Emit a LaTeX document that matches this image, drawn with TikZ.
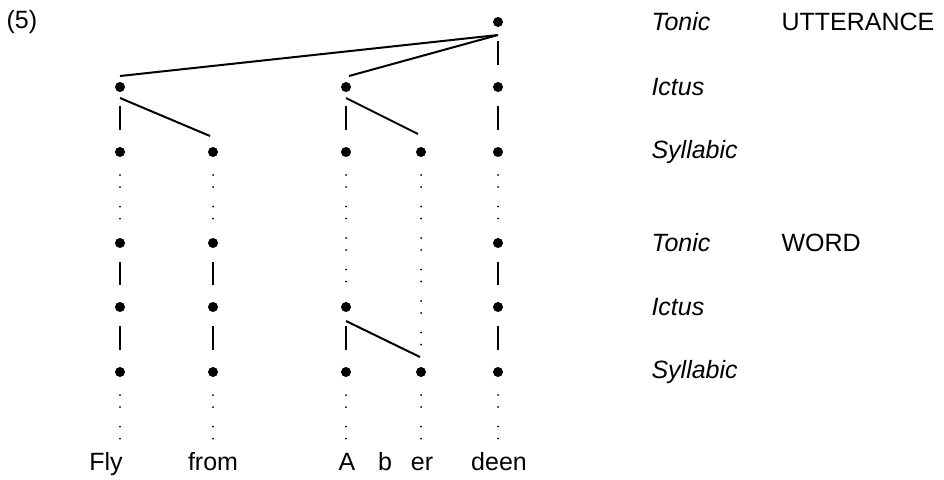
\documentclass[tikz,border=0pt]{standalone}
\usepackage{fontspec}
\setmainfont{Liberation Sans}
\usepackage{tikz}
\usetikzlibrary{positioning, calc}

\begin{document}
\begin{tikzpicture}[
    x=1pt, y=-1pt,
    font=\fontsize{25}{29}\selectfont,
    beat/.style={circle, fill=black, inner sep=0pt, minimum size=10pt},
    link/.style={line width=2pt},
    stem/.style={line width=2pt, shorten <=19pt, shorten >=22pt},
    dotline/.style={line width=2pt, line cap=round, dash pattern=on 0pt off 12pt on 0pt off 19.5pt, shorten <=23pt, shorten >=20pt},
    word/.style={anchor=base},
    tier/.style={anchor=west, font=\fontsize{25}{29}\selectfont\itshape},
    level/.style={anchor=west}
]
    \useasboundingbox (0,0) rectangle (944,479);

    \node[anchor=west] (num) at (3,22) {(5)};

    % utterance level
    \node[beat] (deenT) at (498,22) {};
    \node[beat] (flyI) at (120,87) {};
    \node[beat] (aI) at (346,87) {};
    \node[beat] (deenI) at (498,87) {};
    \node[beat] (flyS) at (120,152) {};
    \node[beat] (fromS) at (213,152) {};
    \node[beat] (aS) at (346,152) {};
    \node[beat] (erS) at (421,152) {};
    \node[beat] (deenS) at (498,152) {};

    % word level
    \node[beat] (flyWT) at (120,243) {};
    \node[beat] (fromWT) at (213,243) {};
    \node[beat] (deenWT) at (498,243) {};
    \node[beat] (flyWI) at (120,307) {};
    \node[beat] (fromWI) at (213,307) {};
    \node[beat] (aWI) at (346,307) {};
    \node[beat] (deenWI) at (498,307) {};
    \node[beat] (flyWS) at (120,372) {};
    \node[beat] (fromWS) at (213,372) {};
    \node[beat] (aWS) at (346,372) {};
    \node[beat] (erWS) at (421,372) {};
    \node[beat] (deenWS) at (498,372) {};

    \node[word] (wFly) at (106,470) {Fly};
    \node[word] (wFrom) at (213,470) {from};
    \node[word] (wA) at (347,470) {A};
    \node[word] (wB) at (385,470) {b};
    \node[word] (wEr) at (422,470) {er};
    \node[word] (wDeen) at (499,470) {deen};

    \node[tier] (tonicU) at (648,22) {Tonic};
    \node[tier] (ictusU) at (648,87) {Ictus};
    \node[tier] (syllU) at (648,152) {Syllabic};
    \node[tier] (tonicW) at (648,243) {Tonic};
    \node[tier] (ictusW) at (648,307) {Ictus};
    \node[tier] (syllW) at (648,372) {Syllabic};
    \node[level] (utt) at (778,22) {UTTERANCE};
    \node[level] (wrd) at (778,243) {WORD};

    % connections
    \draw[link] ([yshift=-13pt]deenT.center) -- ([yshift=11pt]flyI.center);
    \draw[link] ([yshift=-13pt]deenT.center) -- ([xshift=3pt, yshift=11pt]aI.center);
    \draw[stem] (deenT.center) -- (deenI.center);
    \draw[stem] (flyI.center) -- (flyS.center);
    \draw[link] ([yshift=-11pt]flyI.center) -- ([xshift=-3pt, yshift=16pt]fromS.center);
    \draw[stem] (aI.center) -- (aS.center);
    \draw[link] ([yshift=-11pt]aI.center) -- ([xshift=-3pt, yshift=18pt]erS.center);
    \draw[stem] (deenI.center) -- (deenS.center);

    \draw[dotline] (flyS.center) -- (flyWT.center);
    \draw[dotline] (fromS.center) -- (fromWT.center);
    \draw[dotline] (aS.center) -- (aWI.center);
    \draw[dotline] (erS.center) -- (erWS.center);
    \draw[dotline] (deenS.center) -- (deenWT.center);

    \draw[stem] (flyWT.center) -- (flyWI.center);
    \draw[stem] (flyWI.center) -- (flyWS.center);
    \draw[stem] (fromWT.center) -- (fromWI.center);
    \draw[stem] (fromWI.center) -- (fromWS.center);
    \draw[stem] (deenWT.center) -- (deenWI.center);
    \draw[stem] (deenWI.center) -- (deenWS.center);
    \draw[stem] (aWI.center) -- (aWS.center);
    \draw[link] ([yshift=-14pt]aWI.center) -- ([xshift=-1pt, yshift=15pt]erWS.center);

    \draw[dotline, shorten >=0pt] (flyWS.center) -- (flyWS |- wFly.north);
    \draw[dotline, shorten >=0pt] (fromWS.center) -- (fromWS |- wFrom.north);
    \draw[dotline, shorten >=0pt] (aWS.center) -- (aWS |- wA.north);
    \draw[dotline, shorten >=0pt] (erWS.center) -- (erWS |- wEr.north);
    \draw[dotline, shorten >=0pt] (deenWS.center) -- (deenWS |- wDeen.north);
\end{tikzpicture}
\end{document}
